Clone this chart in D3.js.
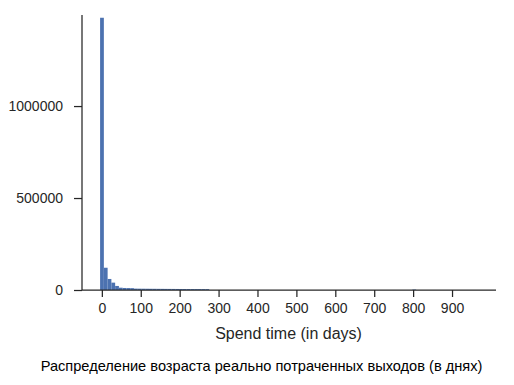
<!DOCTYPE html>
<html>
<head>
<meta charset="utf-8">
<script src="https://cdn.jsdelivr.net/npm/d3@7"></script>
<style>
  body { margin: 0; background: #fff; }
  text { font-family: "Liberation Sans", Arial, Helvetica, sans-serif; fill: #262626; }
</style>
</head>
<body>
<div id="chart"></div>
<script>
// histogram of spend time, bins of ~9.67 days starting just below 0
const binStart = -4.5;
const binWidth = 9.67;
const counts = [
  1480000, 121000, 60000, 40000, 22000, 12500, 11000, 10500, 10000, 7500,
  7200, 7000, 6800, 6600, 6500, 6300, 6200, 6000, 5900, 5800,
  5600, 5500, 5400, 5300, 5200, 5100, 5000, 4900, 4800
];
// isolated bin near 800 days
const farBinIndex = [83];
const farBinCount = [2500];

const xTicks = [0, 100, 200, 300, 400, 500, 600, 700, 800, 900];
const yTicks = [0, 500000, 1000000];

const xLabel = "Spend time (in days)";
const caption = "Распределение возраста реально потраченных выходов (в днях)";

const width = 514, height = 385;
const plotLeft = 82, plotRight = 496, plotTop = 15, plotBottom = 290;

const bins = counts.map((c, i) => ({ i, c }))
  .concat(farBinIndex.map((b, k) => ({ i: b, c: farBinCount[k] })));

const svg = d3.select("#chart").append("svg")
  .attr("width", width)
  .attr("height", height);

const x = d3.scaleLinear().domain([-51, 1013]).range([plotLeft, plotRight]);
const y = d3.scaleLinear().domain([0, 1495000]).range([plotBottom, plotTop]);

svg.append("g")
  .selectAll("rect")
  .data(bins)
  .join("rect")
    .attr("x", d => x(binStart + d.i * binWidth))
    .attr("width", d => x(binStart + (d.i + 1) * binWidth) - x(binStart + d.i * binWidth))
    .attr("y", d => y(d.c))
    .attr("height", d => y(0) - y(d.c))
    .attr("fill", "#4C72B0");

const xAxis = svg.append("g")
  .attr("transform", `translate(0,${plotBottom})`)
  .call(d3.axisBottom(x).tickValues(xTicks).tickFormat(d3.format("d")).tickSize(7).tickPadding(6));

const yAxis = svg.append("g")
  .attr("transform", `translate(${plotLeft},0)`)
  .call(d3.axisLeft(y).tickValues(yTicks).tickFormat(d3.format("d")).tickSize(8).tickPadding(11));

[xAxis, yAxis].forEach(g => {
  g.select(".domain").attr("stroke", "#262626").attr("stroke-width", 1.25);
  g.selectAll(".tick line").attr("stroke", "#262626").attr("stroke-width", 1.25);
  g.selectAll(".tick text").style("font-size", "14px").attr("fill", "#262626");
});
// spines without end caps
xAxis.select(".domain").attr("d", `M${plotLeft},0H${plotRight}`);
yAxis.select(".domain").attr("d", `M0,${plotTop}V${plotBottom}`);

svg.append("text")
  .attr("x", 288.5)
  .attr("y", 339)
  .attr("text-anchor", "middle")
  .style("font-size", "16px")
  .text(xLabel);

svg.append("text")
  .attr("x", 261.5)
  .attr("y", 371)
  .attr("text-anchor", "middle")
  .style("font-size", "14.6px")
  .style("fill", "#000")
  .text(caption);
</script>
</body>
</html>
